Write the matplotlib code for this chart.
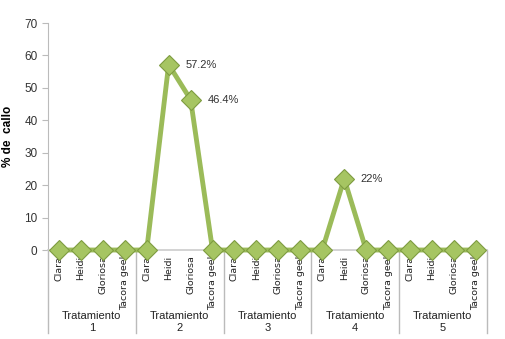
import matplotlib
matplotlib.use('Agg')
import matplotlib.pyplot as plt
import matplotlib.transforms as mtransforms

# data
groups = ['Tratamiento\n1', 'Tratamiento\n2', 'Tratamiento\n3',
          'Tratamiento\n4', 'Tratamiento\n5']
varieties = ['Clara', 'Heidi', 'Gloriosa', 'Tacora geel']
callo = [0, 0, 0, 0,
         0, 57.2, 46.4, 0,
         0, 0, 0, 0,
         0, 22, 0, 0,
         0, 0, 0, 0]
labels = {5: '57.2%', 6: '46.4%', 13: '22%'}

narrow = ['Liberation Sans Narrow', 'DejaVu Sans Condensed', 'DejaVu Sans']
plain = ['Liberation Sans', 'DejaVu Sans']

fig = plt.figure(figsize=(5.05, 3.39), dpi=100)
ax = fig.add_axes([0.095, 0.2625, 0.869, 0.6695])

n = len(callo)
x = list(range(n))
ax.plot(x, callo, color='#9BBB59', lw=3.5, marker='D', markersize=10,
        markerfacecolor='#A6C562', markeredgecolor='#7E9C40',
        markeredgewidth=0.8, zorder=3, clip_on=False)

for i, txt in labels.items():
    ax.annotate(txt, (x[i], callo[i]), xytext=(12, 0),
                textcoords='offset points', va='center', ha='left',
                fontsize=8, color='#333333', family=plain)

ax.set_xlim(-0.5, n - 0.5)
ax.set_ylim(0, 70)
ax.set_yticks(range(0, 71, 10))
ax.tick_params(axis='y', labelsize=8.5, colors='#333333', length=4,
               color='#BBBBBB')
for lab in ax.get_yticklabels():
    lab.set_family(plain)
ax.set_ylabel('% de  callo', fontsize=8.5, fontweight='bold', family=plain)
ax.yaxis.set_label_coords(-0.077, 0.5)

for s in ['top', 'right']:
    ax.spines[s].set_visible(False)
ax.spines['left'].set_color('#BBBBBB')
ax.spines['bottom'].set_color('#CCCCCC')
ax.spines['bottom'].set_linewidth(1.2)

ax.set_xticks(x)
ax.set_xticklabels(varieties * len(groups), rotation=90, fontsize=6.8,
                   color='#222222', va='top', family=narrow)
ax.tick_params(axis='x', length=0, pad=4)

# group separators and labels below the axis
trans = mtransforms.blended_transform_factory(ax.transData, ax.transAxes)
nv = len(varieties)
for g in range(len(groups) + 1):
    xs = g * nv - 0.5
    ax.plot([xs, xs], [0, -0.365], color='#BBBBBB', lw=1,
            transform=trans, clip_on=False)
for g, name in enumerate(groups):
    ax.text(g * nv + (nv - 1) / 2, -0.315, name, transform=trans,
            ha='center', va='center', fontsize=8, color='#222222',
            linespacing=1.25, family=plain)

fig.savefig('out.png', dpi=100)
